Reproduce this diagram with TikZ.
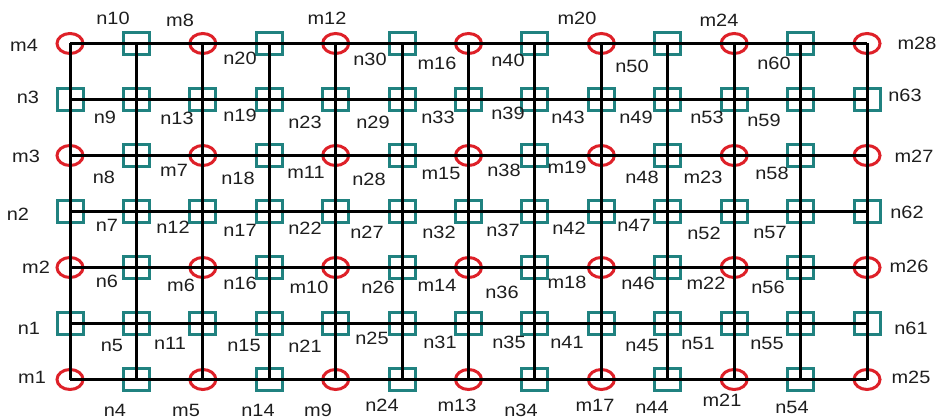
\documentclass[tikz,border=0pt]{standalone}
\usepackage{fontspec}
\setmainfont{Liberation Sans}[FakeStretch=1.12]
\usetikzlibrary{shapes.geometric}
\definecolor{nodered}{RGB}{222,32,40}
\definecolor{nodeteal}{RGB}{32,130,128}
\definecolor{txt}{RGB}{30,30,30}
\tikzset{
  circ/.style={ellipse,draw=nodered,line width=3pt,minimum width=26pt,minimum height=20pt,inner sep=0pt},
  sqr/.style={rectangle,draw=nodeteal,line width=3pt,minimum width=26pt,minimum height=21.5pt,inner sep=0pt},
  wire/.style={draw=black,line width=3pt},
  lbl/.style={text=txt,inner sep=0pt,font=\fontsize{17.8}{20}\selectfont}
}
\newcommand\gridrow[2]{%
  \foreach \nm [count=\c from 0] in {#2} {
    \pgfmathtruncatemacro\isc{(mod(#1,2)==0 && mod(\c,2)==0) ? 1 : 0}
    \ifnum\isc=1
      \node[circ] (\nm) at ({70+66.417*\c},{43.5+56*#1}) {};
    \else
      \node[sqr] (\nm) at ({70+66.417*\c},{43.5+56*#1}) {};
    \fi
  }%
}
\begin{document}
\begin{tikzpicture}[x=1pt,y=-1pt]
\fill[white] (0,0) rectangle (942,419);
\useasboundingbox (0,0) rectangle (942,419);
\gridrow{0}{m4,n10,m8,n20,m12,n30,m16,n40,m20,n50,m24,n60,m28}
\gridrow{1}{n3,n9,n13,n19,n23,n29,n33,n39,n43,n49,n53,n59,n63}
\gridrow{2}{m3,n8,m7,n18,m11,n28,m15,n38,m19,n48,m23,n58,m27}
\gridrow{3}{n2,n7,n12,n17,n22,n27,n32,n37,n42,n47,n52,n57,n62}
\gridrow{4}{m2,n6,m6,n16,m10,n26,m14,n36,m18,n46,m22,n56,m26}
\gridrow{5}{n1,n5,n11,n15,n21,n25,n31,n35,n41,n45,n51,n55,n61}
\gridrow{6}{m1,n4,m5,n14,m9,n24,m13,n34,m17,n44,m21,n54,m25}
% horizontal wires
\foreach \a/\b in {m4/m28,n3/n63,m3/m27,n2/n62,m2/m26,n1/n61,m1/m25}
  \draw[wire] (\a.center) -- (\b.center);
% vertical wires
\foreach \a/\b in {m4/m1,n10/n4,m8/m5,n20/n14,m12/m9,n30/n24,m16/m13,n40/n34,m20/m17,n50/n44,m24/m21,n60/n54,m28/m25}
  \draw[wire] (\a.center) -- (\b.center);
% labels
\foreach \nm/\lx/\ly in {
  m4/24/45, n10/113/18, m8/180/20, n20/240/58, m12/327/18, n30/370/59, m16/437/63, n40/508/60, m20/577/18, n50/632/66, m24/719/20, n60/774/63, m28/917/43,
  n3/28/97, n9/105/117, n13/177/118, n19/240/115, n23/305/122, n29/373/122, n33/438/117, n39/508/113, n43/568/117, n49/636/117, n53/707/117, n59/764/120, n63/905/95,
  m3/26/156, n8/104/177, m7/174/170, n18/238/178, m11/306/172, n28/369/179, m15/441/173, n38/504/170, m19/567/167, n48/642/177, m23/703/177, n58/772/173, m27/914/156,
  n2/18/214, n7/107/225, n12/173/227, n17/240/230, n22/305/228, n27/367/232, n32/439/232, n37/503/230, n42/569/228, n47/634/225, n52/704/233, n57/770/232, n62/907/212,
  m2/36/267, n6/107/281, m6/181/285, n16/240/283, m10/309/287, n26/378/287, m14/437/285, n36/502/292, m18/567/282, n46/638/283, m22/706/283, n56/768/287, m26/909/266,
  n1/29/328, n5/112/345, n11/170/343, n15/244/345, n21/305/346, n25/372/338, n31/440/342, n35/509/342, n41/567/342, n45/642/345, n51/698/343, n55/767/343, n61/911/328,
  m1/32/377, n4/115/410, m5/186/410, n14/258/410, m9/318/410, n24/382/405, m13/457/405, n34/521/410, m17/595/405, n44/652/407, m21/722/400, n54/792/407, m25/911/377}
  \node[lbl] (l-\nm) at (\lx,\ly) {\nm};
\end{tikzpicture}
\end{document}
